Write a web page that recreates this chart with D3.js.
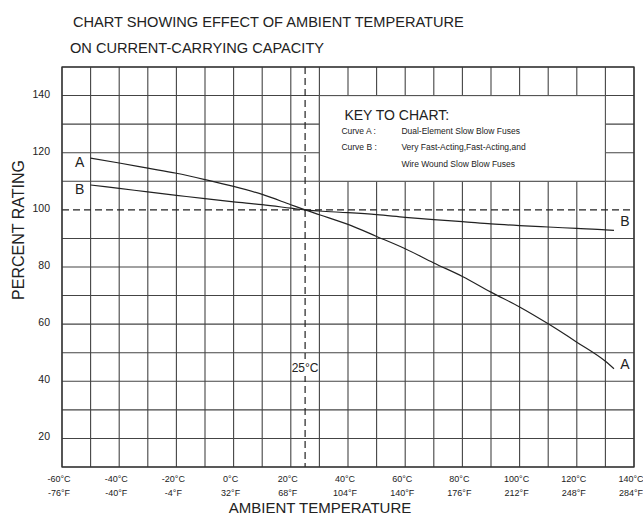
<!DOCTYPE html>
<html>
<head>
<meta charset="UTF-8">
<script src="https://d3js.org/d3.v7.min.js"></script>
<style>
  body { margin: 0; background: #fff; }
  text { font-family: "Liberation Sans", Arial, sans-serif; fill: #222; }
</style>
</head>
<body>
<svg id="chart" width="643" height="517"></svg>
<script>
// temperatures (deg C)
const temps = [-50, -40, -30, -20, -10, 0, 10, 20, 25, 30, 40, 50, 60, 70, 80, 90, 100, 110, 120, 130, 133];
// Curve A : dual-element slow blow fuses
const curveA = [118.1, 116.4, 114.6, 112.8, 110.6, 108.2, 105.4, 101.8, 100, 98.3, 94.9, 90.7, 86.4, 81.4, 76.7, 71.2, 66, 60.1, 53.7, 47, 44.4];
// Curve B : fast-acting / wire wound fuses
const curveB = [108.7, 107.5, 106.3, 105.1, 103.9, 102.8, 101.8, 100.6, 100, 99.6, 99.0, 98.3, 97.4, 96.6, 95.9, 95.1, 94.5, 94.0, 93.5, 93.0, 92.8];

const celsiusTicks = [-60, -40, -20, 0, 20, 40, 60, 80, 100, 120, 140];
const fahrenheitLabels = ["-76°F", "-40°F", "-4°F", "32°F", "68°F", "104°F", "140°F", "176°F", "212°F", "248°F", "284°F"];
const ratingTicks = [20, 40, 60, 80, 100, 120, 140];

const keyLines = [
  ["Curve A :", "Dual-Element Slow Blow Fuses"],
  ["Curve B :", "Very Fast-Acting,Fast-Acting,and"],
  ["", "Wire Wound Slow Blow Fuses"]
];

const svg = d3.select("#chart");
const plotL = 62, plotR = 634, plotT = 67, plotB = 467;

const x = d3.scaleLinear().domain([-60, 140]).range([plotL, plotR]);
const y = d3.scaleLinear().domain([10, 150]).range([plotB, plotT]);

// titles
svg.append("text").attr("x", 73).attr("y", 27).attr("font-size", 14.6)
  .text("CHART SHOWING EFFECT OF AMBIENT TEMPERATURE");
svg.append("text").attr("x", 70).attr("y", 53).attr("font-size", 14.6)
  .text("ON CURRENT-CARRYING CAPACITY");

// grid: 10 deg C columns, 10 % rows
const grid = svg.append("g").attr("stroke", "#444").attr("stroke-width", 1.1);
d3.range(-60, 141, 10).forEach(t => {
  grid.append("line").attr("x1", x(t)).attr("x2", x(t)).attr("y1", plotT).attr("y2", plotB);
});
d3.range(10, 151, 10).filter(v => v !== 100).forEach(v => {
  grid.append("line").attr("x1", plotL).attr("x2", plotR).attr("y1", y(v)).attr("y2", y(v));
});

// reference lines at 25 deg C and 100 %
svg.append("line").attr("x1", plotL).attr("x2", plotR).attr("y1", y(100)).attr("y2", y(100))
  .attr("stroke", "#222").attr("stroke-width", 1.2).attr("stroke-dasharray", "7,4");
svg.append("line").attr("x1", x(25)).attr("x2", x(25)).attr("y1", plotT).attr("y2", plotB)
  .attr("stroke", "#222").attr("stroke-width", 1.2).attr("stroke-dasharray", "7,4");

// 25 deg C label
svg.append("rect").attr("x", x(25) - 13).attr("y", y(45) - 8).attr("width", 26).attr("height", 17).attr("fill", "#fff");
svg.append("text").attr("x", x(25)).attr("y", y(45) + 5).attr("text-anchor", "middle")
  .attr("font-size", 12).text("25°C");

// key box
const kx0 = x(30), kx1 = x(130), ky0 = y(140), ky1 = y(110);
svg.append("rect").attr("x", kx0).attr("y", ky0).attr("width", kx1 - kx0).attr("height", ky1 - ky0)
  .attr("fill", "#fff").attr("stroke", "#555").attr("stroke-width", 1.1);
svg.append("text").attr("x", kx0 + 25).attr("y", ky0 + 24).attr("font-size", 14).text("KEY TO CHART:");
keyLines.forEach((row, i) => {
  const ty = ky0 + 38 + i * 16.5;
  svg.append("text").attr("x", kx0 + 22).attr("y", ty).attr("font-size", 8.5).text(row[0]);
  svg.append("text").attr("x", kx0 + 82).attr("y", ty).attr("font-size", 8.5).text(row[1]);
});

// outer frame
svg.append("rect").attr("x", plotL).attr("y", plotT).attr("width", plotR - plotL).attr("height", plotB - plotT)
  .attr("fill", "none").attr("stroke", "#333").attr("stroke-width", 1.3);

// curves
const line = d3.line().x(d => x(d[0])).y(d => y(d[1])).curve(d3.curveMonotoneX);
[curveA, curveB].forEach(vals => {
  svg.append("path").datum(temps.map((t, i) => [t, vals[i]]))
    .attr("fill", "none").attr("stroke", "#222").attr("stroke-width", 1.2).attr("d", line);
});

// curve labels
const last = temps.length - 1;
[["A", curveA], ["B", curveB]].forEach(([name, vals]) => {
  svg.append("text").attr("x", x(temps[0]) - 11).attr("y", y(vals[0]) + 9)
    .attr("text-anchor", "middle").attr("font-size", 14).text(name);
  svg.append("text").attr("x", x(temps[last]) + 11).attr("y", y(vals[last]) + (name === "A" ? 0 : -4))
    .attr("text-anchor", "middle").attr("font-size", 14).text(name);
});

// y axis labels
svg.append("g").selectAll("text").data(ratingTicks).join("text")
  .attr("x", 50).attr("y", d => y(d) + 2).attr("text-anchor", "end").attr("font-size", 10.5).text(d => d);

// x axis labels (two rows: C and F)
const xl = svg.append("g");
celsiusTicks.forEach((c, i) => {
  xl.append("text").attr("x", x(c) - 3).attr("y", 482).attr("text-anchor", "middle").attr("font-size", 9).text(c + "°C");
  xl.append("text").attr("x", x(c) - 3).attr("y", 496).attr("text-anchor", "middle").attr("font-size", 9).text(fahrenheitLabels[i]);
});

// axis titles
svg.append("text").attr("transform", "translate(24,230) rotate(-90)").attr("text-anchor", "middle")
  .attr("font-size", 16).text("PERCENT RATING");
svg.append("text").attr("x", 320).attr("y", 513).attr("text-anchor", "middle").attr("font-size", 15)
  .text("AMBIENT TEMPERATURE");
</script>
</body>
</html>
